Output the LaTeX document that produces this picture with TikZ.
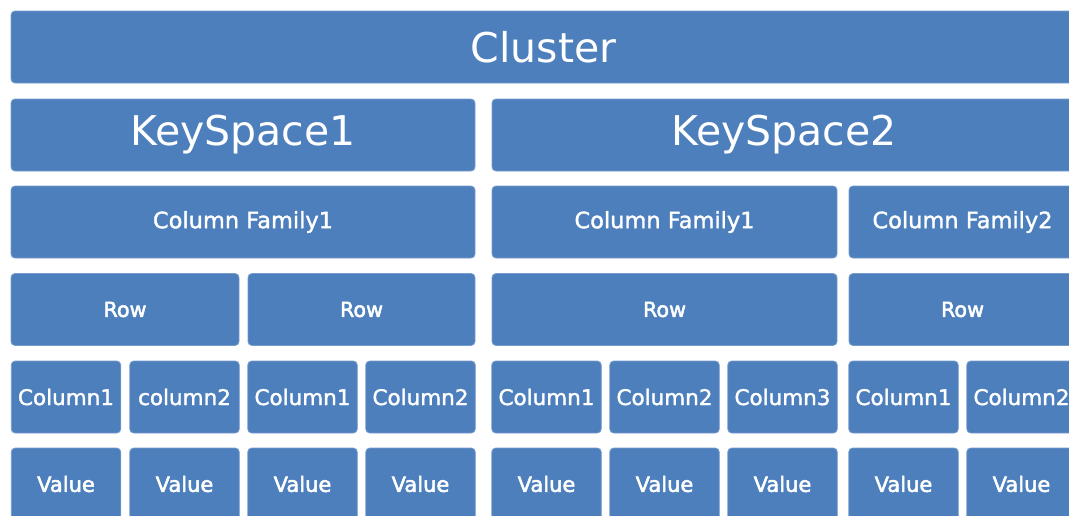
\documentclass[tikz,border=0pt]{standalone}
\usepackage{fontspec}
\setmainfont{DejaVu Sans}
\newfontfamily\heavier[FakeBold=1.6]{DejaVu Sans}
\newfontfamily\heaviest[FakeBold=2.4]{DejaVu Sans}
\definecolor{cellfill}{RGB}{77,127,188}
\definecolor{celledge}{RGB}{118,155,206}
\tikzset{
  cell/.style={rectangle, rounded corners=4pt, fill=cellfill, draw=celledge,
    line width=0.8pt, text=white, inner sep=0pt, minimum height=72pt},
  big/.style={cell, font=\fontsize{41}{41}\selectfont},
  mid/.style={cell, font=\heavier\fontsize{22.5}{22.5}\selectfont},
  small/.style={cell, font=\heaviest\fontsize{20.7}{20.7}\selectfont},
  colcell/.style={cell, minimum width=109.5pt, font=\heavier\fontsize{21.5}{21.5}\selectfont},
  valcell/.style={cell, minimum width=109.5pt, font=\heaviest\fontsize{21}{21}\selectfont},
}
\begin{document}
\begin{tikzpicture}[x=1pt,y=-1pt]
\useasboundingbox (0,0) rectangle (1069,515);
\clip (0,0) rectangle (1069,515);
% cluster level
\node[big, minimum width=1065pt] (cluster) at (543.5,47) {Cluster};
% keyspaces
\node[big, minimum width=464pt] (ks1) at (243,135) {KeySpace1};
\node[big, minimum width=584pt] (ks2) at (784,135) {KeySpace2};
% column families
\node[mid, minimum width=464pt] (cfa) at (243,222) {Column Family1};
\node[mid, minimum width=345pt] (cfb) at (664.5,222) {Column Family1};
\node[mid, minimum width=227pt] (cfc) at (962.5,222) {Column Family2};
% rows
\node[small, minimum width=228pt] (rowa) at (125,309.5) {Row};
\node[small, minimum width=227pt] (rowb) at (361.5,309.5) {Row};
\node[small, minimum width=345pt] (rowc) at (664.5,309.5) {Row};
\node[small, minimum width=227pt] (rowd) at (962.5,309.5) {Row};
% columns
\node[colcell] (c1) at (66,397) {Column1};
\node[colcell] (c2) at (184.5,397) {column2};
\node[colcell] (c3) at (302.5,397) {Column1};
\node[colcell] (c4) at (420.5,397) {Column2};
\node[colcell] (c5) at (546.5,397) {Column1};
\node[colcell] (c6) at (664.5,397) {Column2};
\node[colcell] (c7) at (782.5,397) {Column3};
\node[colcell] (c8) at (903.5,397) {Column1};
\node[colcell] (c9) at (1021.5,397) {Column2};
% values
\node[valcell] (v1) at (66,484) {Value};
\node[valcell] (v2) at (184.5,484) {Value};
\node[valcell] (v3) at (302.5,484) {Value};
\node[valcell] (v4) at (420.5,484) {Value};
\node[valcell] (v5) at (546.5,484) {Value};
\node[valcell] (v6) at (664.5,484) {Value};
\node[valcell] (v7) at (782.5,484) {Value};
\node[valcell] (v8) at (903.5,484) {Value};
\node[valcell] (v9) at (1021.5,484) {Value};
\end{tikzpicture}
\end{document}
